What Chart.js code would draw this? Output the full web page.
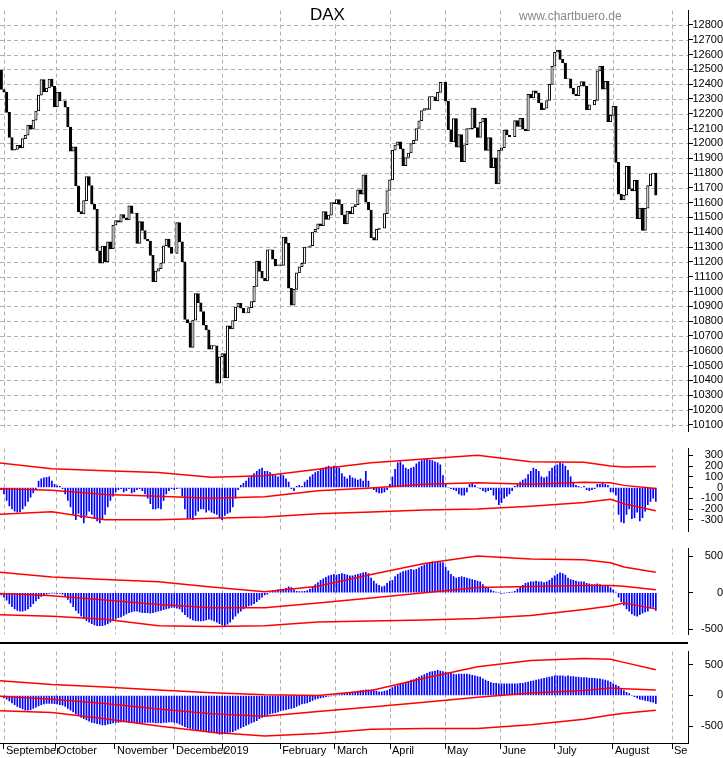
<!DOCTYPE html>
<html>
<head>
<meta charset="utf-8">
<script src="https://cdn.jsdelivr.net/npm/chart.js@4/dist/chart.umd.min.js"></script>
<style>
  body { margin: 0; background: #fff; width: 723px; height: 758px; position: relative; overflow: hidden; font-family: "Liberation Sans", Arial, sans-serif; }
  canvas { position: absolute; left: 0; }
  .title { position: absolute; left: 310px; top: 5px; font-size: 17px; color: #000; }
  .site { position: absolute; left: 519px; top: 9px; font-size: 12px; color: #888; }
  .sep { position: absolute; left: 0; top: 642px; width: 688px; height: 2px; background: #000; }
</style>
</head>
<body>
<canvas id="price" width="723" height="438" style="top:2px"></canvas>
<canvas id="osc1" width="723" height="100" style="top:440px"></canvas>
<canvas id="osc2" width="723" height="103" style="top:540px"></canvas>
<canvas id="osc3" width="723" height="115" style="top:643px"></canvas>
<div class="sep"></div>
<div class="title">DAX</div>
<div class="site">www.chartbuero.de</div>
<script>
// DATA - daily closes, Aug 30 2018 .. Aug 2019 (trading day index)
const closes = [
  12494, 12364,
  12346, 12210, 12040, 11955, 11960, 11987, 11970, 12032, 12055, 12124, 12096, 12157, 12219, 12326, 12431, 12350, 12374, 12435, 12385, 12247,
  12346, 12287, 12288, 12244, 12111, 11947, 11977, 11713, 11539, 11524, 11614, 11776, 11716, 11589, 11554, 11274, 11191, 11307, 11201, 11335, 11287, 11447, 11479,
  11468, 11519, 11495, 11484, 11579, 11527, 11529, 11325, 11472, 11412, 11353, 11341, 11244, 11066, 11138, 11154, 11192, 11309, 11354, 11298, 11257, 11257,
  11465, 11335, 11200, 10811, 10788, 10622, 10806, 10986, 10924, 10865, 10772, 10741, 10611, 10634, 10633, 10381, 10559,
  10580, 10417, 10768, 10747, 10803, 10894, 10921, 10887, 10856, 10855, 10891, 10932, 11035, 11205, 11136, 11090, 11072, 11282, 11281, 11218, 11173,
  11180, 11176, 11367, 11325, 11022, 10907, 11014, 11126, 11167, 11190, 11300, 11299, 11309, 11402, 11420, 11457, 11445, 11540, 11487, 11516,
  11601, 11593, 11620, 11588, 11517, 11457, 11543, 11524, 11572, 11587, 11686, 11657, 11788, 11603, 11550, 11364, 11346, 11419, 11428, 11428, 11526,
  11682, 11754, 11954, 11988, 12010, 11963, 11850, 11905, 11935, 11999, 12020, 12101, 12153, 12222, 12235, 12230, 12316, 12315, 12289, 12345,
  12412, 12413, 12286, 12092, 12010, 12168, 11974, 12059, 11876, 11991, 12100, 12099, 12238, 12107, 12041, 12143, 12169, 11952, 12039, 11837, 11902, 11727,
  11953, 11971, 12090, 12057, 12045, 12045, 12155, 12115, 12169, 12096, 12085, 12331, 12308, 12355, 12340, 12274, 12228, 12238, 12290, 12399,
  12521, 12616, 12630, 12568, 12543, 12437, 12436, 12373, 12332, 12323, 12387, 12417, 12387, 12227, 12260, 12260, 12291, 12490, 12522, 12367, 12419, 12147, 12189,
  12250, 11872, 11658, 11619, 11650, 11845, 11694, 11679, 11750, 11492, 11563, 11413, 11562, 11715, 11794, 11800, 11650
];
const firstOpen = 12440;

const hist1 = [
  0,-20,-60,-120,-170,-200,-220,-230,-225,-200,-170,-130,-90,-50,-10,
  60,80,90,95,100,60,30, 15,10,-10,
  -60,-120,-180,-250,-300,-240,-280,-330, -260,-220,-250,-290,-310,-330,
  -300,-250,-180,-120,-80,-40,-20,-10,
  -40,-30,-10,-50,-40,-20,-10,-30,-60,-100,-150, -200,-200,-190,-200,-120,
  -60,-30,-10,-20,-10,-5,
  -80,-200,-290,-280,-300,-260,-220,-200,-200,-230,-210,-230,-240,-250,-280,-300,-260,-240,-230,-180,-100,
  -20,20,40,60,90,110,130,150,170,180,150,
  150,140,120,110,100,120,110,80,50, -10,-30,10,
  20,10,50,70,100,120,140,150, 170,180,190,200,190,200,195,180,
  130,100,80,110,90,80,70,80,60, 150,60,0,-20, -40,-50,-50,-40,-20,
  30,100,170,230,240,210, 180,170,180,190,220, 240,250,260,270,255,250,240,230,210,
  110,30,0,-10,-20,-30, -60,-70,-70,-40,30,40,20,0,-10, -30,-40,-30,-20,
  -70,-110,-160,-140,-100,-80,-60,-30,10, 30,50,70,80,120,150,180,170,150, 100,90,100,
  150,180,200,210,230,220,200,160,100,50, 20,10,0,10,-20,-30,-20,-10,30, 30,40,30,20,
  -40,-40,-70, -250,-320,-330,-250,-200,-290,-280,-230,-310,-280,-220,-160,-130,-100,-130
];
const hist2 = [
  -10,-30,-60,-100,-150,-190,-220,-240,-250,-250,-240,-220,-190,-150,-110,
  -80,-50,-30,-20,-10,-5,-5,-10,-10,-20,
  -50,-90,-140,-190,-240,-280,-320,-350,-380,-400,-420,-440,-450,-450,-450,-440,-420,-400,-380,-360,-340,-330,
  -310,-290,-270,-260,-250,-250,-260,-270,-270,-270,-280,-270,-260,-250,-240,-230,-220,-210,-200,-200,-210,-220,
  -260,-300,-330,-350,-370,-380,-385,-385,-380,-370,-360,-370,-385,-400,-420,-440,-450,-430,-400,-360,-320,
  -280,-250,-220,-200,-180,-170,-150,-120,-90,-60,-30,-20,
  10,20,30,40,50,45,60,80,70,40,20,15,15,20,30,
  50,80,110,140,170,190,210,230,240,250,
  240,250,260,250,240,230,230,240,250,260,270,280,260,
  200,160,120,100,80,90,130,160,170,
  220,250,270,290,300,310,320,310,320,
  340,360,380,400,410,420,410,420,410,410,
  350,300,250,220,200,
  210,220,210,200,190,180,170,160,150,
  110,80,60,40,20,10,0,-10,-5,0,5,10,20,
  50,80,100,130,140,150,150,160,150,150,140,150,170,
  200,230,250,270,260,240,200,180,170,
  160,150,150,150,130,120,110,110,120,110,100,100,90,
  70,40,10,
  -60,-120,-170,-220,-250,-290,-310,-320,-300,-280,-260,-250,-210,-200,-240
];
const hist3 = [
  -10,-20,-40,-60,-90,-120,-150,-180,-200,-220,-240,-240,-230,-210,-190,
  -170,-150,-140,-130,-130,-130,-135,-140,-150,-160,
  -180,-210,-240,-270,-300,-330,-360,-380,-400,-420,-440,-450,-460,-470,-480,-480,-470,-460,-450,-440,-440,-430,
  -430,-430,-440,-440,-440,-450,-450,-450,-440,-440,-440,-440,-450,-450,-450,-440,-440,-430,-430,-440,-450,-470,
  -490,-510,-530,-540,-550,-560,-560,-570,-580,-590,-600,-600,-610,-620,-630,-630,-620,-610,-600,-590,-570,
  -550,-530,-510,-490,-470,-450,-430,-410,-380,-360,-340,-320,
  -300,-290,-280,-270,-250,-240,-230,-220,-210,-200,-180,-160,-140,-130,-120,
  -100,-80,-60,-50,-40,-30,-20,-10,-5,0,
  10,15,20,30,40,50,55,60,70,80,85,90,90,
  90,80,70,60,60,70,80,100,130,
  150,160,180,200,210,230,250,260,280,
  300,320,340,360,380,390,400,410,400,390,
  380,370,360,350,340,
  350,350,350,350,340,330,320,310,300,
  270,250,230,210,200,200,190,190,190,190,190,190,190,
  190,200,200,210,220,230,240,250,260,270,280,290,300,
  310,320,320,320,320,310,320,310,310,
  300,300,290,290,290,280,280,280,270,270,260,250,240,
  220,190,170,
  150,110,80,50,30,0,-20,-40,-60,-70,-80,-90,-100,-110,-130
];

// envelope lines, read at these day indexes
const linePos = [0, 20, 40, 60, 80, 100, 120, 140, 160, 180, 200, 220, 230, 235, 247];
const up1  = [230, 175, 155, 140, 95, 110, 170, 230, 265, 300, 240, 235, 200, 190, 195];
const mid1 = [-10, -25, -65, -80, -100, -85, -30, -5, 30, 45, 30, 50, 45, 20, -10];
const lo1  = [-250, -225, -300, -300, -285, -275, -245, -228, -210, -200, -175, -140, -110, -150, -215];
const up2  = [280, 215, 180, 150, 80, 15, 90, 250, 400, 500, 460, 450, 410, 350, 280];
const mid2 = [-10, -40, -100, -160, -205, -205, -140, -70, 0, 70, 85, 100, 100, 90, 40];
const lo2  = [-300, -320, -360, -450, -460, -450, -400, -385, -370, -350, -310, -230, -180, -140, -220];
const up3  = [240, 180, 140, 90, 45, 10, 0, 80, 280, 470, 570, 605, 590, 540, 420];
const mid3 = [-10, -60, -130, -220, -300, -340, -260, -190, -110, -30, 40, 80, 120, 110, 90];
const lo3  = [-250, -280, -380, -500, -600, -660, -620, -550, -540, -540, -480, -390, -320, -290, -240];

// month gridlines / labels
const monthPos = [2, 21.5, 43.7, 65.9, 84, 105.8, 126.4, 147.1, 167.8, 188.5, 209.1, 230.9, 253.1];
const monthLabels = ['September', 'October', 'November', 'December', '2019', 'February', 'March', 'April', 'May', 'June', 'July', 'August', 'Sep'];

const X_MIN = 0.5, X_MAX = 259.1;
const FONT = { family: '"Liberation Sans", Arial, sans-serif', size: 11 };

function xScale(bottom) {
    return {
        type: 'linear', min: X_MIN, max: X_MAX, offset: false,
        afterBuildTicks: s => { s.ticks = monthPos.map(v => ({ value: v })); },
        afterFit: s => { s.height = bottom ? 15 : 0; },
        grid: { drawOnChartArea: false, drawTicks: bottom, tickLength: 6, tickColor: '#000', offset: false },
        border: { display: bottom, color: '#000', width: 1 },
        ticks: { display: false }
    };
}

function yScale(min, max, tickVals) {
    return {
        position: 'right', min: min, max: max,
        afterBuildTicks: s => { s.ticks = tickVals.map(v => ({ value: v })); },
        afterFit: s => { s.width = 35; },
        grid: { drawOnChartArea: false, tickColor: '#000', tickLength: 5 },
        border: { display: true, color: '#000', width: 1 },
        ticks: { color: '#000', font: FONT, crossAlign: 'far', padding: 2, autoSkip: false, callback: v => String(v) }
    };
}

// dashed grey grid: month lines everywhere, price lines in the top panel
const dashedGrid = {
    id: 'dashedGrid',
    beforeDatasetsDraw(chart, args, opts) {
        const ctx = chart.ctx, a = chart.chartArea;
        ctx.save();
        ctx.strokeStyle = '#b0b0b0';
        ctx.lineWidth = 1;
        ctx.setLineDash([4, 3]);
        ctx.beginPath();
        monthPos.forEach(p => {
            const x = Math.round(chart.scales.x.getPixelForValue(p)) + 0.5;
            ctx.moveTo(x, a.top); ctx.lineTo(x, a.bottom);
        });
        if (opts.rows) {
            opts.rows.forEach(v => {
                const y = Math.round(chart.scales.y.getPixelForValue(v)) + 0.5;
                ctx.moveTo(a.left, y); ctx.lineTo(a.right, y);
            });
        }
        ctx.stroke();
        ctx.restore();
    }
};

// month names written just right of each month line, clipped at the axis
const monthText = {
    id: 'monthText',
    afterDraw(chart) {
        const ctx = chart.ctx, x = chart.scales.x, area = chart.chartArea;
        ctx.save();
        ctx.beginPath();
        ctx.rect(0, area.bottom, area.right, 20);
        ctx.clip();
        ctx.fillStyle = '#000';
        ctx.font = '11px "Liberation Sans", Arial, sans-serif';
        ctx.textBaseline = 'middle';
        monthPos.forEach((p, i) => ctx.fillText(monthLabels[i], x.getPixelForValue(p) + 2, area.bottom + 8));
        ctx.restore();
    }
};

function baseOptions(rows) {
    return {
        responsive: false, animation: false,
        layout: { padding: 0 },
        plugins: { legend: { display: false }, tooltip: { enabled: false }, dashedGrid: { rows: rows } }
    };
}

// PRICE CHART
const candles = closes.map((c, i) => {
    const o = i === 0 ? firstOpen : closes[i - 1];
    return { x: i, y: [o, c] };
});
const priceTicks = [];
for (let p = 10100; p <= 12800; p += 100) priceTicks.push(p);

new Chart(document.getElementById('price'), {
    type: 'bar',
    data: {
        datasets: [{
            data: candles,
            backgroundColor: candles.map(d => d.y[1] >= d.y[0] ? '#fff' : '#000'),
            borderColor: '#000',
            borderWidth: 1,
            borderSkipped: false,
            barThickness: 2.5
        }]
    },
    options: Object.assign(baseOptions(priceTicks), {
        scales: { x: xScale(false), y: yScale(10055, 12897, priceTicks) }
    }),
    plugins: [dashedGrid]
});

// OSCILLATOR PANELS
function makePanel(id, hist, up, mid, lo, min, max, ticks, bottom) {
    const line = vals => ({
        type: 'line', order: 0,
        data: vals.map((v, i) => ({ x: linePos[i], y: v })),
        borderColor: '#ff0000', borderWidth: 1.5, pointRadius: 0, tension: 0
    });
    new Chart(document.getElementById(id), {
        type: 'bar',
        data: {
            datasets: [
                {
                    order: 1,
                    data: hist.map((v, i) => ({ x: i, y: v })),
                    backgroundColor: '#0000ff',
                    barThickness: 1
                },
                line(up), line(mid), line(lo)
            ]
        },
        options: Object.assign(baseOptions(null), {
            scales: { x: xScale(bottom), y: yScale(min, max, ticks) }
        }),
        plugins: bottom ? [dashedGrid, monthText] : [dashedGrid]
    });
}

makePanel('osc1', hist1, up1, mid1, lo1, -408, 362, [300, 200, 100, 0, -100, -200, -300], false);
makePanel('osc2', hist2, up2, mid2, lo2, -568, 602, [500, 0, -500], false);
makePanel('osc3', hist3, up3, mid3, lo3, -776, 716, [500, 0, -500], true);
</script>
</body>
</html>
